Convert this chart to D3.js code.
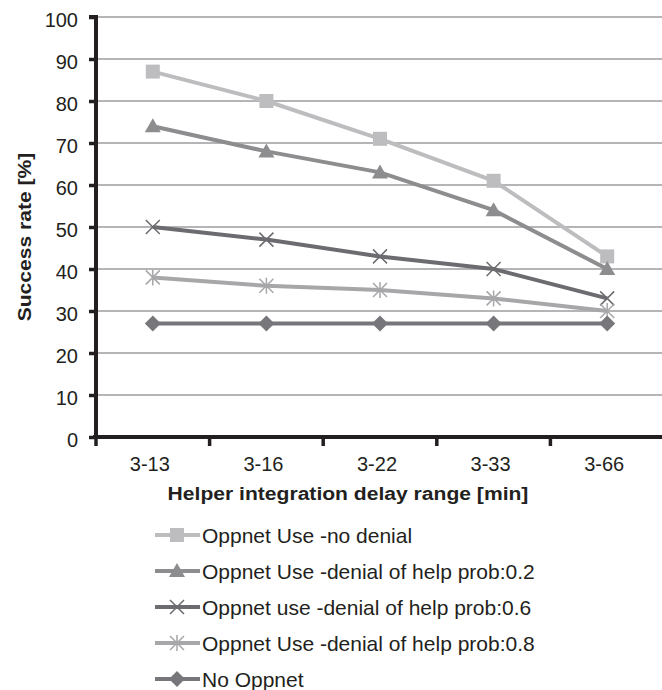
<!DOCTYPE html>
<html>
<head>
<meta charset="utf-8">
<script src="https://cdn.jsdelivr.net/npm/d3@7"></script>
<style>
  body { margin: 0; background: #fff; }
  svg { font-family: "Liberation Sans", Arial, sans-serif; }
</style>
</head>
<body>
<script>
'use strict';

// chart data
const categories = ["3-13", "3-16", "3-22", "3-33", "3-66"];
const yTicks = [0, 10, 20, 30, 40, 50, 60, 70, 80, 90, 100];
const seriesNames = [
  "Oppnet Use -no denial",
  "Oppnet Use -denial of help prob:0.2",
  "Oppnet use -denial of help prob:0.6",
  "Oppnet Use -denial of help prob:0.8",
  "No Oppnet"
];
const noDenial = [87, 80, 71, 61, 43];
const denial02 = [74, 68, 63, 54, 40];
const denial06 = [50, 47, 43, 40, 33];
const denial08 = [38, 36, 35, 33, 30];
const noOppnet = [27, 27, 27, 27, 27];

const seriesValues = [noDenial, denial02, denial06, denial08, noOppnet];
const colors = ["#bdbdc0", "#8d8d90", "#6c6c70", "#a7a7aa", "#77777b"];
const markers = ["square", "triangle", "cross", "star", "diamond"];
const ink = "#231f20";

const svg = d3.select("body").append("svg")
  .attr("width", 662)
  .attr("height", 690);

// scales
const x = d3.scaleBand().domain(categories).range([96, 664]);
const y = d3.scaleLinear().domain([0, 100]).range([437, 17]);

// gridlines
svg.append("g")
  .selectAll("line")
  .data(yTicks.filter(d => d > 0))
  .enter().append("line")
  .attr("x1", 96).attr("x2", 662)
  .attr("y1", d => y(d)).attr("y2", d => y(d))
  .style("stroke", "#9d9d9f")
  .style("stroke-width", 1.5);

// y axis
const yAxis = svg.append("g")
  .attr("transform", "translate(96,0)")
  .call(d3.axisLeft(y).tickValues(yTicks).tickSize(7).tickPadding(11));
yAxis.select(".domain").attr("d", `M-7,${y(100)}H0V${y(0)}`)
  .style("stroke", ink).style("stroke-width", 4).style("fill", "none");
yAxis.selectAll(".tick line").style("stroke", ink).style("stroke-width", 3.5);
yAxis.selectAll(".tick text").attr("dy", 9)
  .style("font-size", "20px").style("fill", ink);

// x axis
const xAxis = svg.append("g")
  .attr("transform", `translate(0,${y(0)})`)
  .call(d3.axisBottom(x).tickSize(0).tickPadding(20));
xAxis.select(".domain").attr("d", "M93,0H662")
  .style("stroke", ink).style("stroke-width", 4);
xAxis.selectAll(".tick text").attr("x", -3)
  .style("font-size", "20px").style("fill", ink);
// boundary ticks between categories
xAxis.append("g").selectAll("line")
  .data(categories)
  .enter().append("line")
  .attr("x1", d => x(d)).attr("x2", d => x(d))
  .attr("y1", 0).attr("y2", 9)
  .style("stroke", ink).style("stroke-width", 3.5);

// axis titles (the original text is slightly stretched horizontally)
svg.append("text")
  .attr("transform", "translate(31,237)rotate(-90)scale(1.14,1)")
  .attr("text-anchor", "middle")
  .style("font-size", "18.5px").style("font-weight", "bold").style("fill", ink)
  .text("Success rate [%]");

svg.append("text")
  .attr("transform", "translate(348,500)scale(1.14,1)")
  .attr("text-anchor", "middle")
  .style("font-size", "18.5px").style("font-weight", "bold").style("fill", ink)
  .text("Helper integration delay range [min]");

// marker drawing
function drawMarker(g, type, cx, cy, color) {
  if (type === "square") {
    g.append("rect").attr("x", cx - 7).attr("y", cy - 7).attr("width", 14).attr("height", 14).style("fill", color);
  } else if (type === "triangle") {
    g.append("path").attr("d", `M${cx},${cy - 8}L${cx + 8},${cy + 6}L${cx - 8},${cy + 6}Z`).style("fill", color);
  } else if (type === "diamond") {
    g.append("path").attr("d", `M${cx},${cy - 8}L${cx + 8},${cy}L${cx},${cy + 8}L${cx - 8},${cy}Z`).style("fill", color);
  } else if (type === "cross") {
    g.append("path").attr("d", `M${cx - 7},${cy - 7}L${cx + 7},${cy + 7}M${cx - 7},${cy + 7}L${cx + 7},${cy - 7}`)
      .style("stroke", color).style("stroke-width", 1.5);
  } else if (type === "star") {
    g.append("path").attr("d", `M${cx - 7},${cy - 7}L${cx + 7},${cy + 7}M${cx - 7},${cy + 7}L${cx + 7},${cy - 7}M${cx},${cy - 8}V${cy + 8}`)
      .style("stroke", color).style("stroke-width", 1.5);
  }
}

// series lines and markers
const cxOf = i => x(categories[i]) + x.bandwidth() / 2;
const line = d3.line()
  .x((d, i) => cxOf(i))
  .y(d => y(d));

seriesValues.forEach((vals, s) => {
  const g = svg.append("g");
  g.append("path")
    .datum(vals)
    .attr("d", line)
    .style("fill", "none")
    .style("stroke", colors[s])
    .style("stroke-width", 4);
  vals.forEach((v, i) => drawMarker(g, markers[s], cxOf(i), y(v), colors[s]));
});

// legend
const legend = svg.append("g");
seriesNames.forEach((name, s) => {
  const ly = 535 + s * 36;
  const lg = legend.append("g");
  lg.append("line")
    .attr("x1", 155).attr("x2", 200)
    .attr("y1", ly).attr("y2", ly)
    .style("stroke", colors[s]).style("stroke-width", 4);
  drawMarker(lg, markers[s], 177, ly, colors[s]);
  lg.append("text")
    .attr("x", 202).attr("y", ly + 8)
    .style("font-size", "21px").style("fill", ink)
    .text(name);
});
</script>
</body>
</html>
